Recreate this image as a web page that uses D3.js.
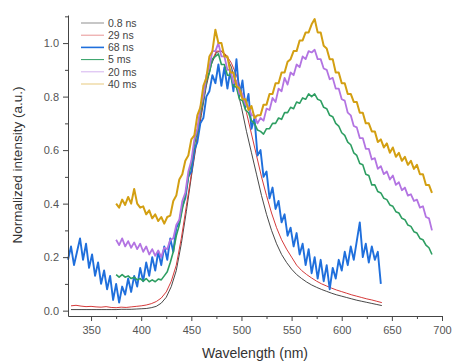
<!DOCTYPE html>
<html lang="en">
<head>
<meta charset="utf-8">
<script src="https://d3js.org/d3.v7.min.js"></script>
<style>
  body { margin: 0; background: #fff; }
  text { font-family: "Liberation Sans", Arial, sans-serif; }
</style>
</head>
<body>
<script>
// series labels and colours
const names = ["0.8 ns", "29 ns", "68 ns", "5 ms", "20 ms", "40 ms"];
const colors = ["#333333", "#d63a3a", "#1f6fdc", "#2e9e62", "#b374e2", "#d39f12"];

// wavelength grids (nm): start and step for each series
const starts = [330, 330, 327, 375, 375, 375];
const steps = [5, 5, 3, 3, 3, 3];

// 0.8 ns
const ns08 = [0.004, 0.004, 0.004, 0.004, 0.004, 0.004, 0.004, 0.004, 0.004, 0.004,
  0.005, 0.005, 0.005, 0.006, 0.007, 0.008, 0.011, 0.016, 0.028, 0.05,
  0.09, 0.15, 0.25, 0.37, 0.50, 0.62, 0.73, 0.84, 0.92, 0.965,
  0.97, 0.95, 0.91, 0.84, 0.76, 0.67, 0.59, 0.51, 0.43, 0.36,
  0.30, 0.25, 0.21, 0.18, 0.155, 0.135, 0.12, 0.107, 0.096, 0.087,
  0.079, 0.072, 0.065, 0.059, 0.054, 0.049, 0.044, 0.039, 0.035, 0.031,
  0.027, 0.023, 0.019];
// 29 ns
const ns29 = [0.018, 0.02, 0.017, 0.015, 0.016, 0.014, 0.013, 0.015, 0.012, 0.011,
  0.013, 0.012, 0.014, 0.016, 0.018, 0.021, 0.026, 0.034, 0.047, 0.07,
  0.11, 0.17, 0.27, 0.39, 0.51, 0.63, 0.74, 0.85, 0.93, 0.97,
  0.97, 0.955, 0.925, 0.88, 0.82, 0.74, 0.66, 0.58, 0.50, 0.43,
  0.365, 0.31, 0.265, 0.23, 0.20, 0.17, 0.15, 0.135, 0.122, 0.11,
  0.10, 0.092, 0.084, 0.077, 0.071, 0.065, 0.059, 0.054, 0.049, 0.044,
  0.04, 0.035, 0.03];
// 68 ns
const ns68 = [0.19, 0.24, 0.17, 0.22, 0.27, 0.19, 0.25, 0.16, 0.21, 0.13,
  0.18, 0.10, 0.15, 0.08, 0.13, 0.04, 0.10, 0.03, 0.09, 0.06,
  0.12, 0.07, 0.13, 0.09, 0.16, 0.11, 0.18, 0.13, 0.20, 0.15,
  0.22, 0.17, 0.24, 0.19, 0.27, 0.22, 0.31, 0.33, 0.39, 0.42,
  0.50, 0.52, 0.60, 0.63, 0.70, 0.72, 0.80, 0.82, 0.88, 0.85,
  0.92, 0.84, 0.91, 0.83, 0.90, 0.82, 0.94, 0.80, 0.86, 0.76,
  0.81, 0.68, 0.72, 0.58, 0.60, 0.50, 0.52, 0.42, 0.46, 0.38,
  0.41, 0.33, 0.36, 0.28, 0.31, 0.24, 0.29, 0.21, 0.25, 0.17,
  0.23, 0.14, 0.20, 0.12, 0.19, 0.11, 0.17, 0.08, 0.16, 0.12,
  0.19, 0.15, 0.22, 0.17, 0.24, 0.19, 0.26, 0.33, 0.20, 0.25,
  0.18, 0.24, 0.19, 0.22, 0.10];
// 5 ms
const ms5 = [0.135, 0.125, 0.135, 0.125, 0.13, 0.12, 0.125, 0.115, 0.12, 0.11,
  0.12, 0.108, 0.115, 0.108, 0.118, 0.115, 0.13, 0.145, 0.18, 0.22,
  0.28, 0.32, 0.38, 0.43, 0.50, 0.55, 0.62, 0.67, 0.74, 0.79,
  0.86, 0.89, 0.94, 0.95, 0.96, 0.92, 0.92, 0.88, 0.88, 0.84,
  0.835, 0.79, 0.785, 0.75, 0.74, 0.71, 0.70, 0.675, 0.67, 0.66,
  0.68, 0.68, 0.70, 0.70, 0.72, 0.715, 0.74, 0.74, 0.76, 0.755,
  0.78, 0.775, 0.795, 0.79, 0.81, 0.80, 0.81, 0.79, 0.785, 0.76,
  0.755, 0.73, 0.725, 0.70, 0.69, 0.665, 0.655, 0.63, 0.62, 0.59,
  0.58, 0.55, 0.545, 0.51, 0.505, 0.47, 0.47, 0.445, 0.44, 0.42,
  0.415, 0.395, 0.39, 0.37, 0.365, 0.345, 0.34, 0.32, 0.315, 0.295,
  0.29, 0.27, 0.265, 0.245, 0.235, 0.21];
// 20 ms
const ms20 = [0.265, 0.245, 0.27, 0.24, 0.26, 0.235, 0.255, 0.23, 0.25, 0.22,
  0.24, 0.21, 0.23, 0.205, 0.225, 0.20, 0.235, 0.23, 0.265, 0.27,
  0.32, 0.34, 0.41, 0.44, 0.52, 0.56, 0.64, 0.68, 0.76, 0.80,
  0.88, 0.91, 0.97, 0.97, 1.0, 0.95, 0.95, 0.90, 0.90, 0.85,
  0.86, 0.81, 0.81, 0.77, 0.765, 0.73, 0.73, 0.70, 0.72, 0.71,
  0.755, 0.75, 0.795, 0.78, 0.83, 0.82, 0.87, 0.845, 0.89, 0.88,
  0.92, 0.91, 0.95, 0.94, 0.97, 0.965, 0.975, 0.94, 0.94, 0.905,
  0.90, 0.865, 0.87, 0.83, 0.83, 0.79, 0.785, 0.74, 0.73, 0.69,
  0.685, 0.645, 0.645, 0.605, 0.605, 0.565, 0.57, 0.53, 0.54, 0.51,
  0.52, 0.49, 0.505, 0.47, 0.48, 0.45, 0.46, 0.43, 0.435, 0.41,
  0.415, 0.385, 0.39, 0.35, 0.345, 0.30];
// 40 ms
const ms40 = [0.40, 0.385, 0.415, 0.395, 0.425, 0.40, 0.455, 0.40, 0.385, 0.39,
  0.36, 0.375, 0.345, 0.36, 0.335, 0.35, 0.325, 0.35, 0.355, 0.41,
  0.43, 0.49, 0.51, 0.56, 0.58, 0.64, 0.655, 0.73, 0.76, 0.84,
  0.87, 0.95, 0.97, 1.05, 1.0, 1.0, 0.95, 0.95, 0.89, 0.89,
  0.84, 0.83, 0.79, 0.79, 0.75, 0.765, 0.72, 0.73, 0.73, 0.77,
  0.77, 0.81, 0.81, 0.85, 0.85, 0.89, 0.89, 0.93, 0.94, 0.97,
  0.97, 1.01, 1.01, 1.04, 1.04, 1.07, 1.09, 1.04, 1.04, 0.99,
  0.98, 0.94, 0.94, 0.89, 0.89, 0.85, 0.85, 0.81, 0.81, 0.78,
  0.78, 0.74, 0.74, 0.70, 0.70, 0.67, 0.67, 0.63, 0.64, 0.61,
  0.625, 0.59, 0.61, 0.575, 0.59, 0.56, 0.575, 0.545, 0.56, 0.53,
  0.545, 0.51, 0.51, 0.47, 0.47, 0.44];

const series = [ns08, ns29, ns68, ms5, ms20, ms40];
const widths = [0.9, 1, 1.9, 1.6, 1.8, 2];

// ticks
const xMajor = [350, 400, 450, 500, 550, 600, 650, 700];
const xMinor = [375, 425, 475, 525, 575, 625, 675];
const yMajor = [0.0, 0.2, 0.4, 0.6, 0.8, 1.0];
const yMinor = [0.1, 0.3, 0.5, 0.7, 0.9, 1.1];

const W = 454, H = 363;
const svg = d3.select("body").append("svg")
    .attr("width", W).attr("height", H);

const x = d3.scaleLinear().domain([327, 700]).range([68, 442]);
const y = d3.scaleLinear().domain([-0.02, 1.105]).range([316, 15]);

// curves
const line = d3.line()
    .x(d => x(d[0]))
    .y(d => y(d[1]));

series.forEach((vals, k) => {
  const pts = vals.map((v, i) => [starts[k] + i * steps[k], v]);
  svg.append("path")
     .datum(pts)
     .attr("fill", "none")
     .attr("stroke", colors[k])
     .attr("stroke-width", widths[k])
     .attr("stroke-linejoin", "round")
     .attr("d", line);
});

// axes
const axisColor = "#444";
svg.append("g").attr("transform", "translate(0,316)")
    .call(d3.axisBottom(x).tickValues(xMajor).tickSize(5).tickSizeOuter(0).tickPadding(5));
svg.append("g").attr("transform", "translate(0,316)")
    .call(d3.axisBottom(x).tickValues(xMinor).tickSize(3).tickFormat(""))
    .select(".domain").remove();

svg.append("g").attr("transform", "translate(68,0)")
    .call(d3.axisLeft(y).tickValues(yMajor).tickSize(5).tickSizeOuter(0).tickPadding(4)
      .tickFormat(d3.format(".1f")));
svg.append("g").attr("transform", "translate(68,0)")
    .call(d3.axisLeft(y).tickValues(yMinor).tickSize(3).tickFormat(""))
    .select(".domain").remove();

svg.selectAll(".domain, .tick line").attr("stroke", axisColor).attr("stroke-width", 1);
svg.selectAll(".tick text")
   .attr("fill", "#555")
   .style("font-size", "11px")
   .style("font-family", "'Liberation Sans', Arial, sans-serif");

// axis titles
svg.append("text")
   .attr("x", 255).attr("y", 358)
   .attr("text-anchor", "middle")
   .attr("fill", "#333")
   .style("font-size", "14px")
   .text("Wavelength (nm)");

svg.append("text")
   .attr("transform", "translate(22,165) rotate(-90)")
   .attr("text-anchor", "middle")
   .attr("fill", "#333")
   .style("font-size", "13.5px")
   .text("Normalized intensity (a.u.)");

// legend
const legend = svg.append("g").attr("transform", "translate(81,23)");
names.forEach((n, i) => {
  const g = legend.append("g").attr("transform", "translate(0," + (i * 12.2) + ")");
  g.append("line")
   .attr("x1", 0).attr("x2", 23).attr("y1", 0).attr("y2", 0)
   .attr("stroke", colors[i])
   .attr("stroke-width", i === 2 ? 1.6 : 1)
   .attr("stroke-opacity", i === 2 || i === 3 ? 1 : 0.55);
  g.append("text")
   .attr("x", 27).attr("y", 3.8)
   .attr("fill", "#444")
   .style("font-size", "10.5px")
   .text(n);
});
</script>
</body>
</html>
